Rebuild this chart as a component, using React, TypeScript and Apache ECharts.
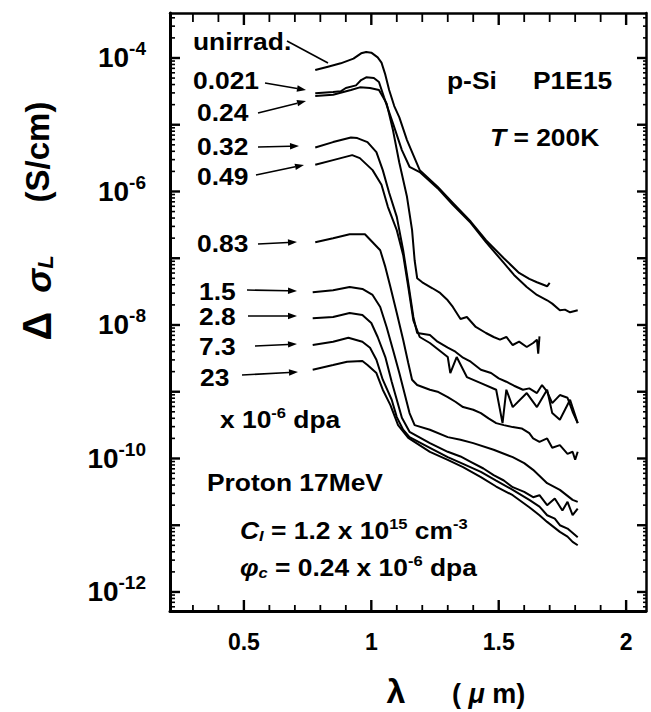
import React, { useEffect, useRef } from "react";
import * as echarts from "echarts";

const FONT = '"Liberation Sans", Arial, Helvetica, sans-serif';

// Axis ranges: wavelength in µm, log10 of Δσ_L in S/cm
const X_MIN = 0.21;
const X_MAX = 2.078;
const Y_MIN = -12.285;
const Y_MAX = -3.326;

const xLabelValues = [0.5, 1, 1.5, 2];
const yLabelExponents = [-12, -10, -8, -6, -4];
const yDecades = [-12, -11, -10, -9, -8, -7, -6, -5, -4];

const doseLabels = ["unirrad.", "0.021", "0.24", "0.32", "0.49", "0.83", "1.5", "2.8", "7.3", "23"];

// [λ (µm), log10 Δσ_L (S/cm)]
const curveUnirrad = [
  [0.78, -4.18], [0.83, -4.13], [0.88, -4.08], [0.93, -4.01], [0.96, -3.93], [0.98, -3.91], [1.0, -3.92],
  [1.025, -3.99], [1.04, -4.07], [1.055, -4.25], [1.07, -4.48], [1.09, -4.72], [1.11, -4.89], [1.14, -5.23],
  [1.17, -5.5], [1.19, -5.68], [1.26, -5.93], [1.32, -6.17], [1.39, -6.45], [1.45, -6.73], [1.52, -7.0],
  [1.58, -7.22], [1.62, -7.31], [1.65, -7.36], [1.69, -7.42], [1.7, -7.37],
];
const curve0021 = [
  [0.78, -4.53], [0.85, -4.51], [0.88, -4.5], [0.9, -4.45], [0.94, -4.41], [0.96, -4.33], [0.98, -4.29],
  [1.01, -4.3], [1.03, -4.36], [1.05, -4.59], [1.085, -4.98], [1.12, -5.38], [1.15, -5.63], [1.19, -5.71],
  [1.26, -5.95], [1.32, -6.2], [1.39, -6.47], [1.45, -6.76], [1.52, -7.07], [1.56, -7.25], [1.61, -7.43],
  [1.65, -7.55], [1.69, -7.63], [1.71, -7.68], [1.74, -7.78], [1.76, -7.77], [1.78, -7.81], [1.81, -7.78],
];
const curve024 = [
  [0.78, -4.57], [0.85, -4.55], [0.92, -4.48], [0.955, -4.44], [0.995, -4.45], [1.03, -4.48], [1.06, -4.68],
  [1.085, -5.08], [1.11, -5.57], [1.14, -6.08], [1.16, -6.58], [1.17, -7.03], [1.18, -7.3], [1.2, -7.36],
  [1.24, -7.45], [1.27, -7.52], [1.3, -7.63], [1.32, -7.73], [1.35, -7.91], [1.375, -7.88], [1.41, -8.03],
  [1.45, -8.12], [1.48, -8.18], [1.505, -8.22], [1.53, -8.18], [1.555, -8.3], [1.58, -8.25], [1.61, -8.33],
  [1.635, -8.27], [1.65, -8.22], [1.655, -8.43], [1.66, -8.17],
];
const curve032 = [
  [0.78, -5.34], [0.85, -5.26], [0.92, -5.19], [0.945, -5.2], [0.985, -5.26], [1.02, -5.41], [1.045, -5.68],
  [1.07, -6.02], [1.1, -6.38], [1.125, -6.88], [1.145, -7.37], [1.165, -7.88], [1.18, -8.12], [1.23, -8.15],
  [1.26, -8.25], [1.3, -8.34], [1.33, -8.4], [1.36, -8.49], [1.39, -8.55], [1.43, -8.67], [1.47, -8.72],
  [1.5, -8.8], [1.53, -8.85], [1.56, -8.91], [1.595, -8.97], [1.62, -8.95], [1.65, -9.02], [1.67, -8.9],
  [1.69, -9.0], [1.71, -9.17], [1.74, -9.05], [1.77, -9.09], [1.79, -9.3], [1.81, -9.47],
];
const curve049 = [
  [0.78, -5.6], [0.85, -5.53], [0.925, -5.455], [0.955, -5.5], [1.005, -5.68], [1.04, -5.9], [1.065, -6.23],
  [1.1, -6.58], [1.125, -6.95], [1.145, -7.43], [1.165, -7.93], [1.19, -8.18], [1.23, -8.27], [1.3, -8.48],
  [1.31, -8.72], [1.335, -8.48], [1.375, -8.78], [1.43, -8.87], [1.49, -8.97], [1.515, -9.47], [1.53, -8.97],
  [1.555, -9.23], [1.61, -9.02], [1.65, -9.23], [1.69, -8.97], [1.71, -9.32], [1.74, -9.42], [1.78, -9.12],
  [1.81, -9.47],
];
const curve083 = [
  [0.78, -6.76], [0.85, -6.7], [0.915, -6.64], [0.975, -6.64], [1.005, -6.76], [1.035, -6.88], [1.055, -7.13],
  [1.075, -7.43], [1.1, -7.82], [1.125, -8.22], [1.145, -8.57], [1.16, -8.82], [1.18, -8.9], [1.23, -8.97],
  [1.26, -9.0], [1.3, -9.08], [1.33, -9.15], [1.36, -9.23], [1.4, -9.27], [1.43, -9.32], [1.46, -9.4],
  [1.49, -9.47], [1.52, -9.5], [1.555, -9.53], [1.59, -9.55], [1.62, -9.62], [1.635, -9.7], [1.66, -9.75],
  [1.69, -9.7], [1.71, -9.84], [1.74, -9.8], [1.77, -9.93], [1.79, -9.9], [1.8, -10.02], [1.81, -9.9],
];
const curve15 = [
  [0.77, -7.51], [0.85, -7.48], [0.915, -7.43], [0.965, -7.46], [1.005, -7.55], [1.035, -7.73], [1.06, -8.03],
  [1.085, -8.37], [1.11, -8.72], [1.13, -9.02], [1.15, -9.32], [1.17, -9.5], [1.23, -9.57], [1.3, -9.68],
  [1.35, -9.72], [1.4, -9.77], [1.48, -9.87], [1.555, -9.98], [1.6, -10.07], [1.635, -10.17], [1.69, -10.37],
  [1.74, -10.47], [1.79, -10.62], [1.81, -10.65],
];
const curve28 = [
  [0.77, -7.9], [0.85, -7.88], [0.915, -7.82], [0.965, -7.85], [1.0, -7.97], [1.025, -8.18], [1.055, -8.48],
  [1.08, -8.85], [1.1, -9.12], [1.12, -9.39], [1.15, -9.6], [1.23, -9.77], [1.3, -9.9], [1.35, -9.97],
  [1.39, -10.05], [1.44, -10.15], [1.48, -10.25], [1.52, -10.33], [1.555, -10.43], [1.6, -10.5], [1.635, -10.58],
  [1.66, -10.55], [1.69, -10.7], [1.72, -10.6], [1.75, -10.78], [1.77, -10.65], [1.79, -10.85], [1.81, -10.75],
];
const curve73 = [
  [0.77, -8.3], [0.85, -8.25], [0.91, -8.19], [0.965, -8.25], [0.995, -8.34], [1.02, -8.52], [1.045, -8.82],
  [1.08, -9.12], [1.1, -9.38], [1.125, -9.57], [1.15, -9.68], [1.23, -9.84], [1.3, -9.98], [1.36, -10.08],
  [1.43, -10.2], [1.49, -10.33], [1.555, -10.47], [1.62, -10.62], [1.66, -10.72], [1.69, -10.85], [1.72, -10.9],
  [1.74, -11.0], [1.77, -11.05], [1.81, -11.18],
];
const curve23 = [
  [0.77, -8.67], [0.85, -8.6], [0.905, -8.55], [0.965, -8.54], [0.985, -8.6], [1.02, -8.72], [1.045, -8.97],
  [1.075, -9.2], [1.105, -9.5], [1.145, -9.69], [1.23, -9.9], [1.3, -10.02], [1.36, -10.13], [1.43, -10.28],
  [1.49, -10.42], [1.555, -10.55], [1.62, -10.73], [1.66, -10.85], [1.69, -10.95], [1.74, -11.1], [1.77, -11.17],
  [1.79, -11.25], [1.81, -11.3],
];

const curves = [curveUnirrad, curve0021, curve024, curve032, curve049, curve083, curve15, curve28, curve73, curve23];

// annotation label positions (pixels): [left, centerY]
const labelPos = [
  [193, 41], [193, 80], [197, 112], [197, 146], [197, 176], [197, 243], [199, 291], [199, 316], [199, 346], [200, 377],
];
// arrow segments (pixels): [x1, y1, x2, y2, hasHead]
const arrowPos = [
  [287, 41, 328, 63, 0], [265, 83, 306, 90, 1], [258, 113, 306, 101, 1], [258, 147, 299, 146, 1], [256, 175, 304, 165, 1],
  [258, 244, 297, 242, 1], [247, 290, 297, 291, 1], [248, 316, 297, 316, 1], [255, 346, 297, 344, 1], [242, 375, 298, 372, 1],
];

// tick positions: [value, isMajor]
const xTicks: number[][] = [];
for (let i = 3; i <= 20; i++) xTicks.push([i / 10, i % 5 === 0 ? 1 : 0]);
const yTicks: number[][] = yDecades.map((d) => [d, 1]);
for (let n = -13; n <= -4; n++) {
  for (let k = 2; k <= 9; k++) {
    const v = n + Math.log10(k);
    if (v > Y_MIN && v < Y_MAX) yTicks.push([v, 0]);
  }
}

const SCALE_X = 1.1;

function richStyles(size: number) {
  const base = { fontFamily: FONT, fontWeight: "bold", fill: "#000", color: "#000" };
  return {
    n: { ...base, fontSize: size },
    i: { ...base, fontSize: size, fontStyle: "italic" },
    sup: { ...base, fontSize: Math.round(size * 0.64), padding: [0, 0, Math.round(size * 0.55), 0] },
    sub: { ...base, fontSize: Math.round(size * 0.64), fontStyle: "italic", padding: [Math.round(size * 0.45), 0, 0, 0] },
  };
}

function textEl(x: number, y: number, text: string, size = 24, scaleX = SCALE_X) {
  return {
    type: "text",
    x,
    y,
    scaleX,
    silent: true,
    z: 10,
    style: {
      text,
      fontFamily: FONT,
      fontWeight: "bold",
      fontSize: size,
      fill: "#000",
      align: "left",
      verticalAlign: "middle",
      rich: richStyles(size),
    },
  };
}

function rotatedText(x: number, y: number, text: string, size: number, italic: boolean, rich?: any) {
  return {
    type: "text",
    x,
    y,
    rotation: Math.PI / 2,
    silent: true,
    style: {
      text,
      align: "center",
      verticalAlign: "middle",
      fontFamily: FONT,
      fontWeight: "bold",
      fontStyle: italic ? "italic" : "normal",
      fontSize: size,
      fill: "#000",
      rich,
    },
  };
}

function lineEl(x1: number, y1: number, x2: number, y2: number, w: number) {
  return {
    type: "line",
    silent: true,
    z: 10,
    shape: { x1, y1, x2, y2 },
    style: { stroke: "#000", lineWidth: w },
  };
}

function arrowEls(x1: number, y1: number, x2: number, y2: number, head: number) {
  const a = Math.atan2(y2 - y1, x2 - x1);
  const L = head ? 9 : 0;
  const W = 3.2;
  const bx = x2 - L * Math.cos(a);
  const by = y2 - L * Math.sin(a);
  const els: any[] = [lineEl(x1, y1, bx, by, 1.6)];
  if (head) {
    els.push({
      type: "polygon",
      silent: true,
      z: 10,
      shape: {
        points: [
          [x2, y2],
          [bx + W * Math.sin(a), by - W * Math.cos(a)],
          [bx - W * Math.sin(a), by + W * Math.cos(a)],
        ],
      },
      style: { fill: "#000" },
    });
  }
  return els;
}

export default function App() {
  const ref = useRef<HTMLDivElement>(null);

  useEffect(() => {
    if (!ref.current) return;
    const chart = echarts.init(ref.current, undefined, { renderer: "svg" });

    const lineSeries: any[] = curves.map((data, i) => ({
      name: doseLabels[i],
      type: "line",
      xAxisIndex: 0,
      yAxisIndex: 0,
      data,
      showSymbol: false,
      symbol: "none",
      silent: true,
      lineStyle: { color: "#000", width: 2 },
      z: 3,
    }));

    const option: any = {
      animation: false,
      backgroundColor: "#fff",
      grid: { left: 170, right: 5, top: 13, bottom: 101, containLabel: false, outerBoundsMode: "none" },
      xAxis: [
        {
          type: "value",
          position: "bottom",
          min: X_MIN,
          max: X_MAX,
          splitLine: { show: false },
          axisLine: { show: true, onZero: false, lineStyle: { color: "#000", width: 3 } },
          axisTick: { show: false },
          axisLabel: {
            show: true,
            customValues: xLabelValues,
            margin: 19,
            formatter: (v: number) => String(v),
            color: "#000",
            fontFamily: FONT,
            fontWeight: "bold",
            fontSize: 23,
          },
        },
        {
          type: "value",
          position: "top",
          min: X_MIN,
          max: X_MAX,
          splitLine: { show: false },
          axisLine: { show: true, onZero: false, lineStyle: { color: "#000", width: 2.5 } },
          axisTick: { show: false },
          axisLabel: { show: false },
        },
      ],
      yAxis: [
        {
          type: "value",
          position: "left",
          min: Y_MIN,
          max: Y_MAX,
          splitLine: { show: false },
          axisLine: { show: true, onZero: false, lineStyle: { color: "#000", width: 3 } },
          axisTick: { show: false },
          axisLabel: {
            show: true,
            customValues: yLabelExponents,
            margin: 24,
            formatter: (v: number) => `{b|10}{s|${Math.round(v)}}`,
            rich: {
              b: { fontFamily: FONT, fontWeight: "bold", fontSize: 28, color: "#000" },
              s: { fontFamily: FONT, fontWeight: "bold", fontSize: 19, color: "#000", padding: [0, 0, 18, 0] },
            },
          },
        },
        {
          type: "value",
          position: "right",
          min: Y_MIN,
          max: Y_MAX,
          splitLine: { show: false },
          axisLine: { show: true, onZero: false, lineStyle: { color: "#000", width: 2.5 } },
          axisTick: { show: false },
          axisLabel: { show: false },
        },
      ],
      series: lineSeries,
    };

    chart.setOption(option);

    // inward tick marks, positioned through the axes' own scales
    const finder = { xAxisIndex: 0, yAxisIndex: 0 };
    const toPx = (x: number, y: number) => chart.convertToPixel(finder as any, [x, y]) as number[];
    const tickEls: any[] = [];
    xTicks.forEach(([v, major]) => {
      const b = toPx(v, Y_MIN);
      const t = toPx(v, Y_MAX);
      const w = major ? 2.4 : 1.8;
      tickEls.push(lineEl(b[0], b[1], b[0], b[1] - (major ? 11 : 6), w));
      tickEls.push(lineEl(t[0], t[1], t[0], t[1] + (major ? 12 : 9), w));
    });
    yTicks.forEach(([v, major]) => {
      const l = toPx(X_MIN, v);
      const r = toPx(X_MAX, v);
      const w = major ? 2.4 : 1.6;
      tickEls.push(lineEl(l[0], l[1], l[0] + (major ? 10 : 5), l[1], w));
      tickEls.push(lineEl(r[0], r[1], r[0] - (major ? 9 : 3), r[1], w));
    });

    const graphics: any[] = [...tickEls];
    doseLabels.forEach((lab, i) => {
      graphics.push(textEl(labelPos[i][0], labelPos[i][1], lab));
    });
    arrowPos.forEach((p) => {
      graphics.push(...arrowEls(p[0], p[1], p[2], p[3], p[4]));
    });
    graphics.push(textEl(220, 419, "x 10{sup|-6} dpa"));
    graphics.push(textEl(207, 482, "Proton 17MeV"));
    graphics.push(textEl(240, 530, "{i|C}{sub|I} = 1.2 x 10{sup|15} cm{sup|-3}"));
    graphics.push(textEl(240, 567, "{i|φ}{sub|c} = 0.24 x 10{sup|-6} dpa"));
    graphics.push(textEl(447, 80, "p-Si"));
    graphics.push(textEl(533, 80, "P1E15"));
    graphics.push(textEl(490, 137, "{i|T} = 200K"));

    // y-axis title (rotated pieces)
    graphics.push(rotatedText(37, 152, "(S/cm)", 33, false));
    graphics.push(
      rotatedText(38, 274, "{s|σ}{l|L}", 36, true, {
        s: { fontFamily: FONT, fontWeight: "bold", fontStyle: "italic", fontSize: 36, fill: "#000" },
        l: { fontFamily: FONT, fontWeight: "bold", fontStyle: "italic", fontSize: 22, fill: "#000", padding: [14, 0, 0, 0] },
      })
    );
    graphics.push(rotatedText(37, 326, "Δ", 40, false));

    // x-axis title
    graphics.push({
      type: "text",
      x: 396,
      y: 691,
      silent: true,
      style: {
        text: "λ",
        align: "center",
        verticalAlign: "middle",
        fontFamily: FONT,
        fontWeight: "bold",
        fontSize: 34,
        fill: "#000",
      },
    });
    graphics.push({
      type: "text",
      x: 452,
      y: 694,
      silent: true,
      style: {
        text: "( {i|μ} m)",
        align: "left",
        verticalAlign: "middle",
        fontFamily: FONT,
        fontWeight: "bold",
        fontSize: 27,
        fill: "#000",
        rich: {
          i: { fontFamily: FONT, fontWeight: "bold", fontStyle: "italic", fontSize: 27, fill: "#000" },
        },
      },
    });

    chart.setOption({ graphic: { elements: graphics } });

    return () => chart.dispose();
  }, []);

  return (
    <div
      ref={ref}
      style={{ position: "fixed", left: 0, top: 0, width: 651, height: 712, background: "#fff" }}
    />
  );
}
